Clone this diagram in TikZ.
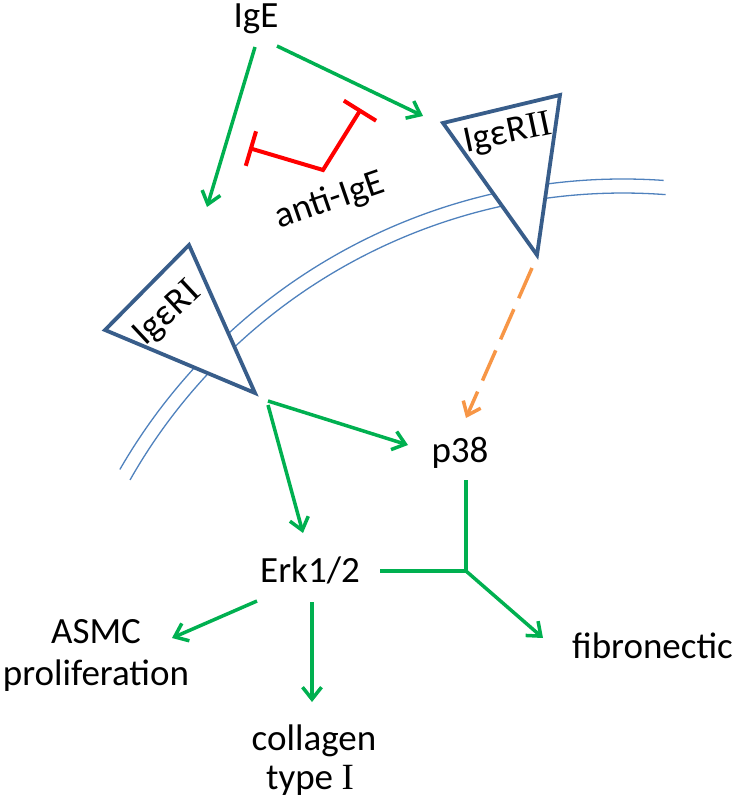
\documentclass[tikz,border=0pt]{standalone}
\usepackage{fontspec}
\setmainfont{Carlito}
\newfontfamily\serifI{Liberation Serif}
\usetikzlibrary{arrows.meta}
\definecolor{grn}{HTML}{00B050}
\definecolor{org}{HTML}{F79646}
\definecolor{tri}{HTML}{385D8A}
\definecolor{mem}{HTML}{4F81BD}
\begin{document}
\begin{tikzpicture}[x=1pt,y=-1pt,
  lbl/.style={font=\fontsize{37}{42}\selectfont, inner sep=0pt},
  rlbl/.style={font=\fontsize{37}{42}\selectfont, inner sep=0pt},
  garrow/.style={draw=grn, line width=3.5pt, -{Straight Barb[length=12pt,width=19pt]}},
  oarrow/.style={draw=org, line width=3.5pt, dash pattern=on 33pt off 12pt, -{Straight Barb[length=12pt,width=19pt]}},
  gline/.style={draw=grn, line width=3.5pt},
  membrane/.style={draw=mem, line width=1.3pt},
  receptor/.style={draw=tri, line width=3.8pt, fill=white, line join=miter},
  inhib/.style={draw=red, line width=4pt, line join=miter, {Bar[width=36pt]}-{Bar[width=38pt]}}]
\useasboundingbox (0,0) rectangle (736,805);

% membrane (two concentric arcs)
\draw[membrane] (623,760) ++(210:581) arc[start angle=210,end angle=274,radius=581];
\draw[membrane] (623,760) ++(209.6:567) arc[start angle=209.6,end angle=274.3,radius=567];

% receptors
\coordinate (t1a) at (105,330);
\coordinate (t1b) at (189,245);
\coordinate (t1c) at (255,393);
\coordinate (t2a) at (443,123);
\coordinate (t2b) at (560,95);
\coordinate (t2c) at (537,255);
\draw[receptor] (t1a) -- (t1b) -- (t1c) -- cycle;
\draw[receptor] (t2a) -- (t2b) -- (t2c) -- cycle;

% labels
\node[lbl, anchor=base] (ige) at (256,28) {IgE};
\node[lbl, rotate=19] (anti) at (330,201) {anti-IgE};
\node[rlbl, rotate=12] (r2) at (508,134) {Igε\kern1pt R{\serifI II}};
\node[rlbl, rotate=43] (r1) at (168,314) {Igε\kern1pt R{\serifI I}};
\node[lbl, anchor=base] (p38) at (460,462) {p38};
\node[lbl, anchor=base] (erk) at (310,582) {Erk1/2};
\node[lbl, anchor=base] (asmc) at (96,643) {ASMC};
\node[lbl, anchor=base] (prolif) at (96,685) {proliferation};
\node[lbl, anchor=base] (coll) at (314,750) {collagen};
\node[lbl, anchor=base] (typ) at (310,789) {type {\serifI I}};
\node[lbl, anchor=base west] (fib) at (572,658) {fibronectic};

% connector end points
\coordinate (a1s) at (255,47);  \coordinate (a1e) at (207,207);
\coordinate (a2s) at (277,46);  \coordinate (a2e) at (423,116);
\coordinate (a3s) at (268,401); \coordinate (a3e) at (408,445);
\coordinate (a4s) at (268,405); \coordinate (a4e) at (303,533);
\coordinate (a5s) at (532,268); \coordinate (a5e) at (466,418);
\coordinate (p38b) at (466,480);
\coordinate (erkr) at (380,571);
\coordinate (jn) at (466,571);
\coordinate (fibt) at (543,638);
\coordinate (erkb) at (312,602); \coordinate (collt) at (312,702);
\coordinate (erkl) at (257,601); \coordinate (asmct) at (172,638);
\coordinate (ai1) at (249,148);
\coordinate (ai2) at (323,170);
\coordinate (ai3) at (361,109);

% connectors
\draw[garrow] (a1s) -- (a1e);
\draw[garrow] (a2s) -- (a2e);
\draw[garrow] (a3s) -- (a3e);
\draw[garrow] (a4s) -- (a4e);
\draw[oarrow] (a5s) -- (a5e);
\draw[gline] (p38b) -- (jn);
\draw[gline] (erkr) -- (jn);
\draw[garrow] (jn) -- (fibt);
\draw[garrow] (erkb) -- (collt);
\draw[garrow] (erkl) -- (asmct);
\draw[inhib] (ai1) -- (ai2) -- (ai3);
\end{tikzpicture}
\end{document}
